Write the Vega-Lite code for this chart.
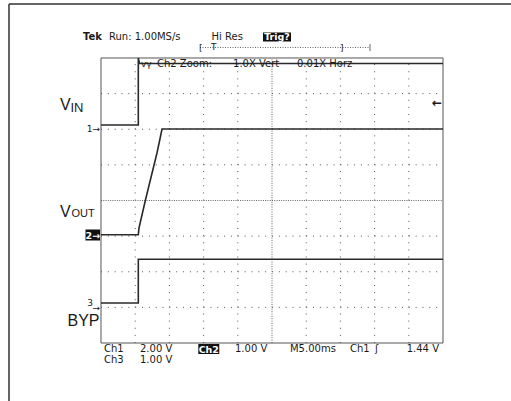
{
  "$schema": "https://vega.github.io/schema/vega-lite/v6.json",
  "width": 511,
  "height": 401,
  "autosize": {"type": "none"},
  "padding": 0,
  "background": "white",
  "config": {"view": {"stroke": null}},
  "datasets": {
    "frame_h": [{"x": -2.690, "x2": 11.988, "y": 9.516}],
    "frame_v": [{"x": -2.690, "y": 9.516, "y2": -1.628}],
    "hgrid": [{"x": 0, "x2": 10, "y": 1}, {"x": 0, "x2": 10, "y": 2}, {"x": 0, "x2": 10, "y": 3}, {"x": 0, "x2": 10, "y": 5}, {"x": 0, "x2": 10, "y": 6}, {"x": 0, "x2": 10, "y": 7}],
    "vgrid": [{"x": 1, "y": 0, "y2": 8}, {"x": 2, "y": 0, "y2": 8}, {"x": 3, "y": 0, "y2": 8}, {"x": 4, "y": 0, "y2": 8}, {"x": 6, "y": 0, "y2": 8}, {"x": 7, "y": 0, "y2": 8}, {"x": 8, "y": 0, "y2": 8}, {"x": 9, "y": 0, "y2": 8}],
    "hcenter": [{"x": 0, "x2": 10, "y": 4}],
    "vcenter": [{"x": 5, "y": 0, "y2": 8}],
    "xt": [{"x":0.2},{"x":0.4},{"x":0.6},{"x":0.8},{"x":1},{"x":1.2},{"x":1.4},{"x":1.6},{"x":1.8},{"x":2},{"x":2.2},{"x":2.4},{"x":2.6},{"x":2.8},{"x":3},{"x":3.2},{"x":3.4},{"x":3.6},{"x":3.8},{"x":4},{"x":4.2},{"x":4.4},{"x":4.6},{"x":4.8},{"x":5},{"x":5.2},{"x":5.4},{"x":5.6},{"x":5.8},{"x":6},{"x":6.2},{"x":6.4},{"x":6.6},{"x":6.8},{"x":7},{"x":7.2},{"x":7.4},{"x":7.6},{"x":7.8},{"x":8},{"x":8.2},{"x":8.4},{"x":8.6},{"x":8.8},{"x":9},{"x":9.2},{"x":9.4},{"x":9.6},{"x":9.8}],
    "yt": [{"y":0.2},{"y":0.4},{"y":0.6},{"y":0.8},{"y":1},{"y":1.2},{"y":1.4},{"y":1.6},{"y":1.8},{"y":2},{"y":2.2},{"y":2.4},{"y":2.6},{"y":2.8},{"y":3},{"y":3.2},{"y":3.4},{"y":3.6},{"y":3.8},{"y":4},{"y":4.2},{"y":4.4},{"y":4.6},{"y":4.8},{"y":5},{"y":5.2},{"y":5.4},{"y":5.6},{"y":5.8},{"y":6},{"y":6.2},{"y":6.4},{"y":6.6},{"y":6.8},{"y":7},{"y":7.2},{"y":7.4},{"y":7.6},{"y":7.8}],
    "border": [{"x": 0, "x2": 10, "y": 0, "y2": 8}],
    "traces": [
      {"ch": "VIN", "i": 0, "x": 0, "y": 6.119},
      {"ch": "VIN", "i": 1, "x": 1.091, "y": 6.119},
      {"ch": "VIN", "i": 2, "x": 1.091, "y": 8.0},
      {"ch": "VIN", "i": 3, "x": 1.126, "y": 7.846},
      {"ch": "VIN", "i": 4, "x": 10, "y": 7.846},
      {"ch": "VOUT", "i": 0, "x": 0, "y": 3.040},
      {"ch": "VOUT", "i": 1, "x": 1.091, "y": 3.040},
      {"ch": "VOUT", "i": 2, "x": 1.111, "y": 3.228},
      {"ch": "VOUT", "i": 3, "x": 1.300, "y": 4.014},
      {"ch": "VOUT", "i": 4, "x": 1.637, "y": 5.333},
      {"ch": "VOUT", "i": 5, "x": 1.730, "y": 5.754},
      {"ch": "VOUT", "i": 6, "x": 1.784, "y": 6.007},
      {"ch": "VOUT", "i": 7, "x": 10, "y": 6.007},
      {"ch": "BYP", "i": 0, "x": 0, "y": 1.123},
      {"ch": "BYP", "i": 1, "x": 1.091, "y": 1.123},
      {"ch": "BYP", "i": 2, "x": 1.091, "y": 2.349},
      {"ch": "BYP", "i": 3, "x": 10, "y": 2.349}
    ],
    "boxes": [
      {"x": 4.737, "x2": 5.556, "y": 8.716, "y2": 8.463},
      {"x": 2.845, "x2": 3.459, "y": -0.028, "y2": -0.309},
      {"x": -0.453, "x2": -0.029, "y": 3.186, "y2": 2.877}
    ],
    "boxtext": [
      {"x": 5.146, "y": 8.505, "t": "Trig?"},
      {"x": 3.152, "y": -0.272, "t": "Ch2"},
      {"x": -0.241, "y": 2.933, "t": "2→"}
    ],
    "scopetext": [
      {"x": 0.234, "y": 8.505, "t": "Run: 1.00MS/s"},
      {"x": 3.231, "y": 8.505, "t": "Hi Res"},
      {"x": 1.637, "y": 7.761, "t": "Ch2 Zoom:"},
      {"x": 3.860, "y": 7.761, "t": "1.0X Vert"},
      {"x": 5.731, "y": 7.761, "t": "0.01X Horz"},
      {"x": 0.088, "y": -0.253, "t": "Ch1"},
      {"x": 1.140, "y": -0.253, "t": "2.00 V"},
      {"x": 3.918, "y": -0.253, "t": "1.00 V"},
      {"x": 5.526, "y": -0.253, "t": "M5.00ms"},
      {"x": 7.281, "y": -0.253, "t": "Ch1"},
      {"x": 8.012, "y": -0.253, "t": "ʃ"},
      {"x": 8.939, "y": -0.253, "t": "1.44 V"},
      {"x": 0.088, "y": -0.562, "t": "Ch3"},
      {"x": 1.140, "y": -0.562, "t": "1.00 V"}
    ],
    "boldtext": [{"x": -0.526, "y": 8.505, "t": "Tek"}],
    "smalltext": [
      {"x": 2.865, "y": 8.197, "t": "["},
      {"x": 3.216, "y": 8.22, "t": "T"},
      {"x": 6.988, "y": 8.197, "t": "]"},
      {"x": 1.167, "y": 7.761, "t": "vγ"}
    ],
    "arrowtext": [{"x": 9.68, "y": 6.611, "t": "←"}],
    "markers": [
      {"x": -0.029, "y": 5.923, "t": "1→"},
      {"x": -0.029, "y": 0.912, "t": "→"},
      {"x": -0.234, "y": 1.025, "t": "3"}
    ],
    "bracket": [{"x": 2.895, "x2": 7.865, "y": 8.295}],
    "bracketend": [{"x": 7.865, "y": 8.393, "y2": 8.196}],
    "biglabels": [
      {"x": -1.199, "y": 6.540, "t": "V"},
      {"x": -1.199, "y": 3.537, "t": "V"},
      {"x": -0.980, "y": 0.477, "t": "BYP"}
    ],
    "sublabel": [{"x": -0.892, "y": 6.484, "t": "IN"}],
    "outlabel": [{"x": -0.863, "y": 3.537, "t": "OUT"}]
  },
  "encoding": {
    "x": {"field": "x", "type": "quantitative", "scale": {"domain": [-2.953, 11.988], "nice": false, "zero": false}, "axis": null},
    "y": {"field": "y", "type": "quantitative", "scale": {"domain": [-1.628, 9.628], "nice": false, "zero": false}, "axis": null}
  },
  "layer": [
    {"data": {"name": "frame_h"}, "mark": {"type": "rule", "color": "#333", "strokeWidth": 1.5}, "encoding": {"x2": {"field": "x2"}}},
    {"data": {"name": "frame_v"}, "mark": {"type": "rule", "color": "#333", "strokeWidth": 1.5}, "encoding": {"y2": {"field": "y2"}}},
    {"data": {"name": "hgrid"}, "mark": {"type": "rule", "color": "#555", "strokeWidth": 1, "strokeDash": [1, 5.84]}, "encoding": {"x2": {"field": "x2"}}},
    {"data": {"name": "vgrid"}, "mark": {"type": "rule", "color": "#555", "strokeWidth": 1, "strokeDash": [1, 6.125]}, "encoding": {"y2": {"field": "y2"}}},
    {"data": {"name": "hcenter"}, "mark": {"type": "rule", "color": "#666", "strokeWidth": 1, "strokeDash": [1, 1.28]}, "encoding": {"x2": {"field": "x2"}}},
    {"data": {"name": "vcenter"}, "mark": {"type": "rule", "color": "#666", "strokeWidth": 1, "strokeDash": [1, 1.375]}, "encoding": {"y2": {"field": "y2"}}},
    {"data": {"name": "xt"}, "mark": {"type": "rule", "color": "#555", "strokeWidth": 1}, "encoding": {"y": {"datum": 3.93}, "y2": {"datum": 4.07}}},
    {"data": {"name": "xt"}, "mark": {"type": "rule", "color": "#555", "strokeWidth": 1}, "encoding": {"y": {"datum": 8}, "y2": {"datum": 7.916}}},
    {"data": {"name": "xt"}, "mark": {"type": "rule", "color": "#555", "strokeWidth": 1}, "encoding": {"y": {"datum": 0}, "y2": {"datum": 0.084}}},
    {"data": {"name": "yt"}, "mark": {"type": "rule", "color": "#555", "strokeWidth": 1}, "encoding": {"x": {"datum": 4.927}, "x2": {"datum": 5.073}}},
    {"data": {"name": "yt"}, "mark": {"type": "rule", "color": "#555", "strokeWidth": 1}, "encoding": {"x": {"datum": 0}, "x2": {"datum": 0.088}}},
    {"data": {"name": "yt"}, "mark": {"type": "rule", "color": "#555", "strokeWidth": 1}, "encoding": {"x": {"datum": 10}, "x2": {"datum": 9.912}}},
    {"data": {"name": "border"}, "mark": {"type": "rect", "filled": false, "stroke": "#555", "strokeWidth": 1}, "encoding": {"x2": {"field": "x2"}, "y2": {"field": "y2"}}},
    {"data": {"name": "traces"}, "mark": {"type": "line", "color": "#2a2a2a", "strokeWidth": 1.6}, "encoding": {"detail": {"field": "ch"}, "order": {"field": "i", "type": "quantitative"}}},
    {"data": {"name": "bracket"}, "mark": {"type": "rule", "color": "#666", "strokeWidth": 1, "strokeDash": [1, 1.5]}, "encoding": {"x2": {"field": "x2"}}},
    {"data": {"name": "bracketend"}, "mark": {"type": "rule", "color": "#666", "strokeWidth": 1}, "encoding": {"y2": {"field": "y2"}}},
    {"data": {"name": "boxes"}, "mark": {"type": "rect", "color": "#111"}, "encoding": {"x2": {"field": "x2"}, "y2": {"field": "y2"}}},
    {"data": {"name": "boxtext"}, "mark": {"type": "text", "align": "center", "baseline": "alphabetic", "font": "DejaVu Sans", "fontSize": 9.5, "fontWeight": "bold", "color": "white"}, "encoding": {"text": {"field": "t"}}},
    {"data": {"name": "scopetext"}, "mark": {"type": "text", "align": "left", "baseline": "alphabetic", "font": "DejaVu Sans", "fontSize": 10, "color": "#1a1a1a"}, "encoding": {"text": {"field": "t"}}},
    {"data": {"name": "boldtext"}, "mark": {"type": "text", "align": "left", "baseline": "alphabetic", "font": "DejaVu Sans", "fontSize": 10, "fontWeight": "bold", "color": "#1a1a1a"}, "encoding": {"text": {"field": "t"}}},
    {"data": {"name": "smalltext"}, "mark": {"type": "text", "align": "left", "baseline": "alphabetic", "font": "DejaVu Sans", "fontSize": 9, "color": "#1a1a1a"}, "encoding": {"text": {"field": "t"}}},
    {"data": {"name": "arrowtext"}, "mark": {"type": "text", "align": "left", "baseline": "alphabetic", "font": "DejaVu Sans", "fontSize": 12, "fontWeight": "bold", "color": "#1a1a1a"}, "encoding": {"text": {"field": "t"}}},
    {"data": {"name": "markers"}, "mark": {"type": "text", "align": "right", "baseline": "alphabetic", "font": "DejaVu Sans", "fontSize": 9, "color": "#1a1a1a"}, "encoding": {"text": {"field": "t"}}},
    {"data": {"name": "biglabels"}, "mark": {"type": "text", "align": "left", "baseline": "alphabetic", "font": "Liberation Sans", "fontSize": 16, "color": "#1a1a1a"}, "encoding": {"text": {"field": "t"}}},
    {"data": {"name": "sublabel"}, "mark": {"type": "text", "align": "left", "baseline": "alphabetic", "font": "Liberation Sans", "fontSize": 13, "color": "#1a1a1a"}, "encoding": {"text": {"field": "t"}}},
    {"data": {"name": "outlabel"}, "mark": {"type": "text", "align": "left", "baseline": "alphabetic", "font": "Liberation Sans", "fontSize": 11, "color": "#1a1a1a"}, "encoding": {"text": {"field": "t"}}}
  ]
}
